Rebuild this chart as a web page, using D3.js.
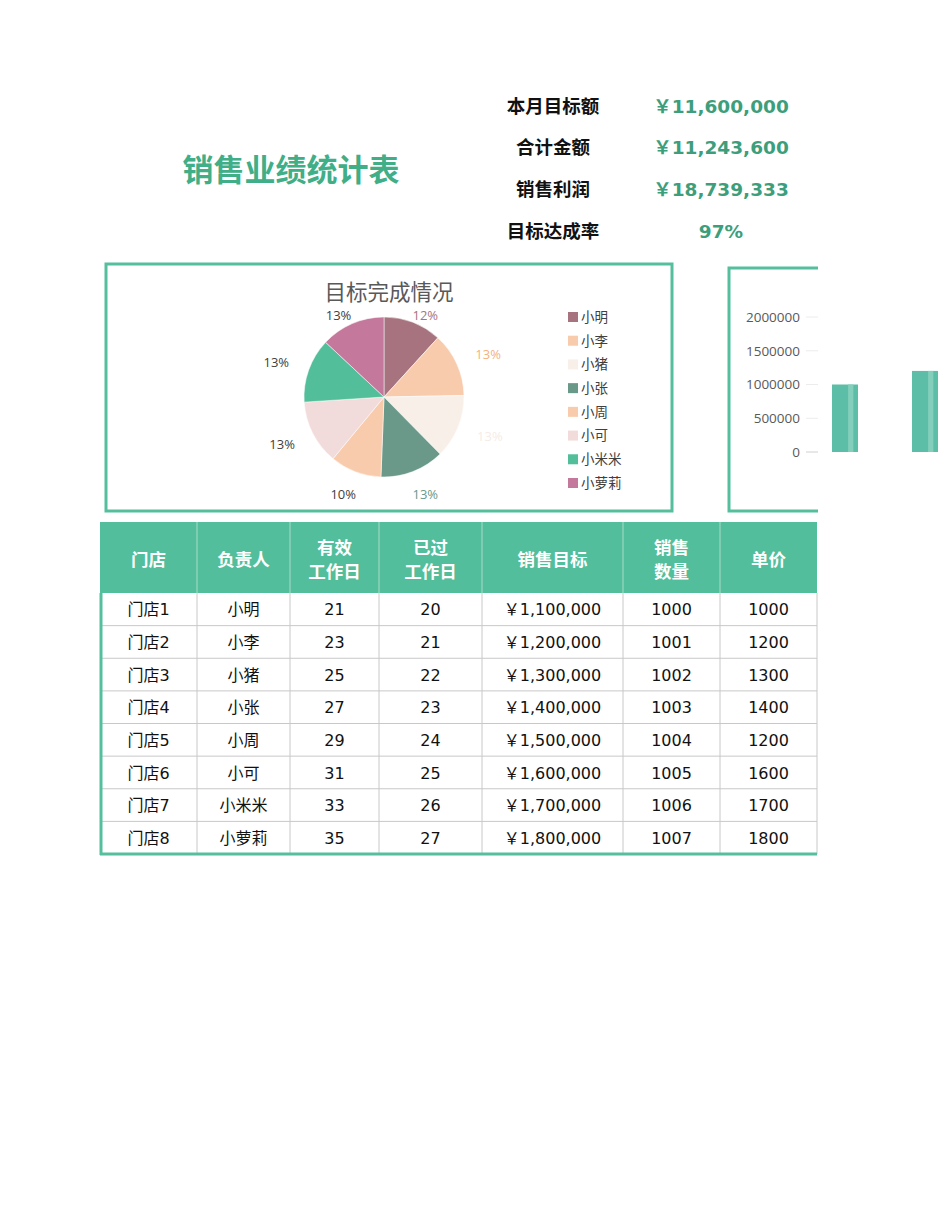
<!DOCTYPE html>
<meta charset="utf-8" />
<head>
  <script src="https://d3js.org/d3.v7.min.js"></script>
  <style>
    body { margin: 0; background: #fff; }
    svg text { font-family: "DejaVu Sans", "Noto Sans CJK SC", sans-serif; }
  </style>
</head>
<body>
  <div id="sheet"></div>
</body>
<script>
  // ---- data read from the sheet ----
  const pageTitle = "销售业绩统计表";
  const summaryLabels = ["本月目标额", "合计金额", "销售利润", "目标达成率"];
  const summaryValues = ["￥11,600,000", "￥11,243,600", "￥18,739,333", "97%"];

  const stores = ["门店1", "门店2", "门店3", "门店4", "门店5", "门店6", "门店7", "门店8"];
  const owners = ["小明", "小李", "小猪", "小张", "小周", "小可", "小米米", "小萝莉"];
  const workDays = [21, 23, 25, 27, 29, 31, 33, 35];
  const passedDays = [20, 21, 22, 23, 24, 25, 26, 27];
  const salesTarget = [1100000, 1200000, 1300000, 1400000, 1500000, 1600000, 1700000, 1800000];
  const salesQty = [1000, 1001, 1002, 1003, 1004, 1005, 1006, 1007];
  const unitPrice = [1000, 1200, 1300, 1400, 1200, 1600, 1700, 1800];

  // pie: completion rate per person
  const completion = [0.909, 1.001, 1.002, 1.003, 0.803, 1.005, 1.006, 1.007];
  const sliceColors = ["#a6737f", "#f8cbad", "#f9efe9", "#6a9989", "#f8cbad", "#f2dcdb", "#52bf9a", "#c4789b"];
  const labelColors = ["#a6737f", "#f4b183", "#f6ece6", "#6a9989", "#404040", "#404040", "#404040", "#404040"];

  // bar chart: sales amount per person
  const salesAmount = [1000000, 1201200, 1302600, 1404200, 1204800, 1608000, 1710200, 1812600];
  const barTicks = [0, 500000, 1000000, 1500000, 2000000];

  const headers = [["门店"], ["负责人"], ["有效", "工作日"], ["已过", "工作日"], ["销售目标"], ["销售", "数量"], ["单价"]];

  const green = "#55bf9d";
  const W = 950, H = 1230;

  const svg = d3.select("#sheet").append("svg")
    .attr("width", W).attr("height", H);

  // ---- title + summary ----
  svg.append("text")
    .attr("x", 291).attr("y", 181)
    .attr("text-anchor", "middle")
    .style("font-family", "'Noto Sans CJK SC', sans-serif")
    .style("font-size", "31px").style("font-weight", "bold")
    .attr("fill", "#40ae87")
    .text(pageTitle);

  const sumY = d3.scalePoint().domain(d3.range(4)).range([106, 231]);
  summaryLabels.forEach((t, i) => {
    svg.append("text")
      .attr("x", 553).attr("y", sumY(i)).attr("dy", "0.36em")
      .attr("text-anchor", "middle")
      .style("font-family", "'Noto Sans CJK SC', sans-serif")
      .style("font-size", "18.5px").style("font-weight", "bold")
      .attr("fill", "#111")
      .text(t);
    svg.append("text")
      .attr("x", 721).attr("y", sumY(i)).attr("dy", "0.36em")
      .attr("text-anchor", "middle")
      .style("font-size", "18.5px").style("font-weight", "bold")
      .attr("fill", "#3d9e7b")
      .text(summaryValues[i]);
  });

  // ---- pie panel ----
  svg.append("rect")
    .attr("x", 106).attr("y", 264).attr("width", 566).attr("height", 247)
    .attr("fill", "#fff").attr("stroke", green).attr("stroke-width", 3);

  const cx = 384, cy = 397, r = 80;
  const pie = d3.pie().sort(null).value(d => d);
  const arcs = pie(completion);
  const arc = d3.arc().innerRadius(0).outerRadius(r);
  const labelArc = d3.arc().innerRadius(104).outerRadius(104);
  const total = d3.sum(completion);

  const pg = svg.append("g").attr("transform", `translate(${cx},${cy})`);
  pg.selectAll("path").data(arcs).join("path")
    .attr("d", arc)
    .attr("fill", (d, i) => sliceColors[i])
    .attr("stroke", "#fff").attr("stroke-width", 0.5);

  // labels sit on a ring; the top ones are kept just under the chart title
  const labelPos = d => {
    const [lx, ly] = labelArc.centroid(d);
    return [lx * 1.1, Math.max(ly, 315 - cy)];
  };
  pg.selectAll("text").data(arcs).join("text")
    .attr("transform", d => `translate(${labelPos(d)})`)
    .attr("text-anchor", "middle").attr("dy", "0.36em")
    .style("font-family", "'Open Sans', 'Noto Sans CJK SC', sans-serif")
    .style("font-size", "13px")
    .attr("fill", (d, i) => labelColors[i])
    .text(d => Math.round(d.value / total * 100) + "%");

  svg.append("text")
    .attr("x", 389).attr("y", 292).attr("dy", "0.36em")
    .attr("text-anchor", "middle")
    .style("font-family", "'Noto Sans CJK SC', sans-serif")
    .style("font-size", "21.5px")
    .attr("fill", "#595959")
    .text("目标完成情况");

  const legY = d3.scalePoint().domain(owners).range([317, 483]);
  const leg = svg.append("g").selectAll("g").data(owners).join("g")
    .attr("transform", d => `translate(568,${legY(d)})`);
  leg.append("rect")
    .attr("x", 0).attr("y", -5).attr("width", 10).attr("height", 10)
    .attr("fill", (d, i) => sliceColors[i]);
  leg.append("text")
    .attr("x", 13).attr("dy", "0.36em")
    .style("font-family", "'Noto Sans CJK SC', sans-serif")
    .style("font-size", "13.5px")
    .attr("fill", "#404040")
    .text(d => d);

  // ---- bar panel (cut at the page edge) ----
  svg.append("clipPath").attr("id", "pageClip")
    .append("rect").attr("x", 0).attr("y", 0).attr("width", 818).attr("height", H);

  const bp = svg.append("g").attr("clip-path", "url(#pageClip)");
  bp.append("rect")
    .attr("x", 729).attr("y", 268).attr("width", 200).attr("height", 243)
    .attr("fill", "#fff").attr("stroke", green).attr("stroke-width", 3);

  const y = d3.scaleLinear().domain([0, 2000000]).range([452, 317]);
  const x = d3.scaleBand().domain(owners).range([805, 805 + 640])
    .paddingInner(0.675).paddingOuter(0.3375);

  const yAxis = bp.append("g")
    .attr("transform", "translate(806,0)")
    .call(d3.axisLeft(y).tickValues(barTicks).tickSize(0).tickPadding(6).tickFormat(d3.format("d")));
  yAxis.select(".domain").remove();
  yAxis.selectAll("text")
    .style("font-family", "'Open Sans', sans-serif")
    .style("font-size", "13.5px").attr("fill", "#595959");

  bp.append("g").selectAll("line").data(barTicks).join("line")
    .attr("x1", 806).attr("x2", 960)
    .attr("y1", d => y(d)).attr("y2", d => y(d))
    .attr("stroke", d => d === 0 ? "#d0d0d0" : "#ececec").attr("stroke-width", 1);

  // bars spill past the page cut, as in the sheet render
  const bars = svg.append("g").selectAll("g").data(salesAmount).join("g");
  bars.append("rect")
    .attr("x", (d, i) => x(owners[i])).attr("width", x.bandwidth())
    .attr("y", d => y(d)).attr("height", d => y(0) - y(d))
    .attr("fill", "#5cbea6");
  bars.append("rect")
    .attr("x", (d, i) => x(owners[i]) + x.bandwidth() * 0.62).attr("width", x.bandwidth() * 0.2)
    .attr("y", d => y(d)).attr("height", d => y(0) - y(d))
    .attr("fill", "#83cfbb");

  // ---- table ----
  const colX = [100, 197, 290, 379, 482, 623, 720, 817];
  const headTop = 522, headBot = 593, tableBot = 854;
  const rowY = d3.scaleLinear().domain([0, 8]).range([headBot, tableBot]);
  const rowH = rowY(1) - rowY(0);
  const yen = d3.format(",");

  const rows = stores.map((s, i) => [
    s, owners[i], workDays[i], passedDays[i], "￥" + yen(salesTarget[i]), salesQty[i], unitPrice[i]
  ]);

  const tg = svg.append("g");
  tg.append("rect")
    .attr("x", colX[0]).attr("y", headTop)
    .attr("width", colX[7] - colX[0]).attr("height", headBot - headTop)
    .attr("fill", "#52be9b");

  // header dividers
  tg.selectAll("line.hd").data(colX.slice(1, 7)).join("line")
    .attr("class", "hd")
    .attr("x1", d => d).attr("x2", d => d).attr("y1", headTop).attr("y2", headBot)
    .attr("stroke", "#a9dcc9").attr("stroke-width", 1);

  headers.forEach((lines, c) => {
    const mx = (colX[c] + colX[c + 1]) / 2;
    const t = tg.append("text")
      .attr("x", mx).attr("text-anchor", "middle")
      .style("font-family", "'Noto Sans CJK SC', sans-serif")
      .style("font-size", "17.5px").style("font-weight", "bold")
      .attr("fill", "#fff");
    if (lines.length === 1) {
      t.append("tspan").attr("x", mx).attr("y", 560).attr("dy", "0.36em").text(lines[0]);
    } else {
      t.append("tspan").attr("x", mx).attr("y", 548).attr("dy", "0.36em").text(lines[0]);
      t.append("tspan").attr("x", mx).attr("y", 572).attr("dy", "0.36em").text(lines[1]);
    }
  });

  // body grid
  tg.selectAll("line.rw").data(d3.range(1, 8)).join("line")
    .attr("class", "rw")
    .attr("x1", colX[0]).attr("x2", colX[7])
    .attr("y1", d => rowY(d)).attr("y2", d => rowY(d))
    .attr("stroke", "#c8c8c8");
  tg.selectAll("line.cl").data(colX.slice(1)).join("line")
    .attr("class", "cl")
    .attr("x1", d => d).attr("x2", d => d).attr("y1", headBot).attr("y2", tableBot)
    .attr("stroke", "#c8c8c8");

  rows.forEach((row, ri) => {
    row.forEach((v, c) => {
      tg.append("text")
        .attr("x", (colX[c] + colX[c + 1]) / 2)
        .attr("y", rowY(ri) + rowH / 2).attr("dy", "0.38em")
        .attr("text-anchor", "middle")
        .style("font-size", "16px")
        .attr("fill", "#111")
        .text(v);
    });
  });

  // green borders on the left and the bottom
  tg.append("line")
    .attr("x1", colX[0] + 1).attr("x2", colX[0] + 1).attr("y1", headBot).attr("y2", tableBot + 1)
    .attr("stroke", green).attr("stroke-width", 3);
  tg.append("line")
    .attr("x1", colX[0]).attr("x2", colX[7]).attr("y1", tableBot).attr("y2", tableBot)
    .attr("stroke", green).attr("stroke-width", 3);
</script>
